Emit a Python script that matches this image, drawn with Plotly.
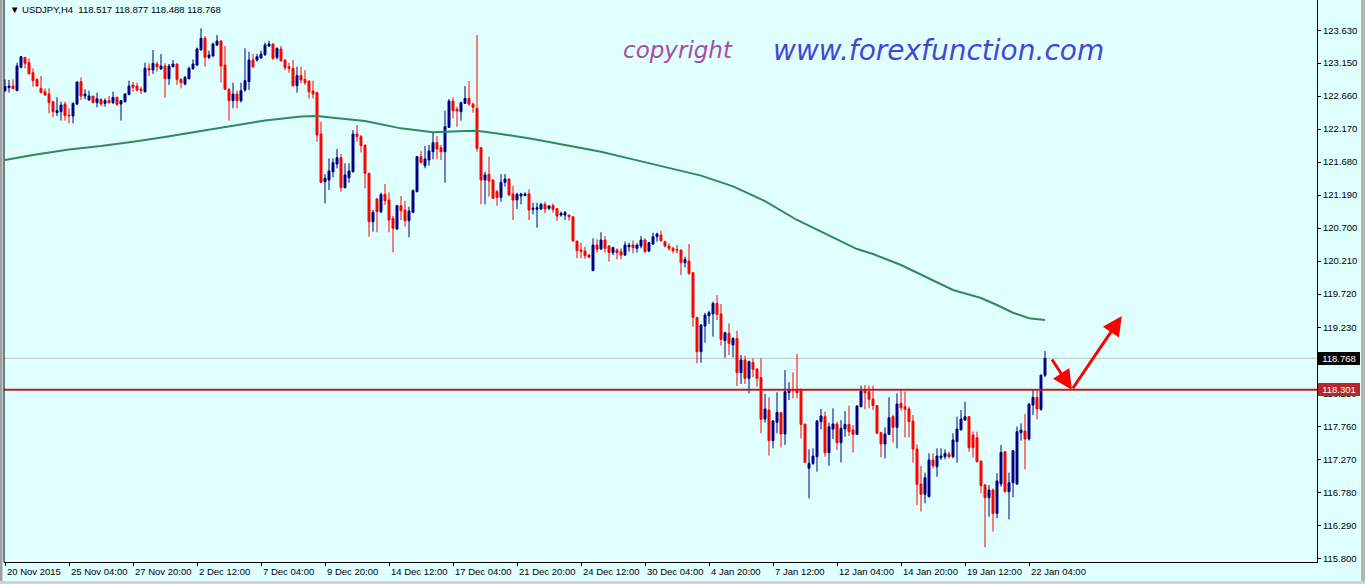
import plotly.graph_objects as go

# ---------------- data ----------------
symbol = "USDJPY,H4"

opens = [
    122.740, 122.785, 122.809, 122.740, 123.087, 123.235, 123.156, 123.007, 122.908, 122.775,
    122.725, 122.691, 122.577, 122.414, 122.428, 122.542, 122.379, 122.364, 122.542, 122.874,
    122.661, 122.602, 122.661, 122.562, 122.612, 122.552, 122.592, 122.562, 122.641, 122.542,
    122.577, 122.681, 122.824, 122.809, 122.765, 122.725, 123.072, 123.047, 123.136, 123.062,
    123.106, 122.918, 123.096, 123.136, 122.908, 122.839, 122.918, 123.067, 123.121, 123.344,
    123.517, 123.235, 123.255, 123.418, 123.477, 123.121, 122.760, 122.592, 122.691, 122.592,
    122.750, 122.874, 123.195, 123.195, 123.225, 123.275, 123.403, 123.433, 123.235, 123.359,
    123.195, 123.096, 123.072, 122.814, 122.963, 122.908, 122.884, 122.735, 122.711, 122.097,
    121.390, 121.414, 121.538, 121.652, 121.746, 121.301, 121.449, 121.538, 122.097, 122.058,
    121.934, 121.513, 120.796, 121.133, 120.945, 121.202, 121.118, 120.846, 120.687, 121.034,
    120.969, 120.811, 120.935, 121.241, 121.761, 121.627, 121.711, 121.835, 121.969, 121.894,
    121.835, 122.196, 122.587, 122.463, 122.428, 122.552, 122.626, 122.542, 122.478, 121.894,
    121.414, 121.498, 121.414, 121.241, 121.157, 121.380, 121.429, 121.207, 121.118, 121.177,
    121.182, 121.207, 120.979, 120.979, 120.984, 121.053, 120.994, 121.034, 120.989, 120.895,
    120.895, 120.895, 120.870, 120.509, 120.376, 120.361, 120.301, 120.069, 120.450, 120.390,
    120.524, 120.435, 120.336, 120.376, 120.351, 120.301, 120.425, 120.450, 120.400, 120.435,
    120.524, 120.361, 120.465, 120.573, 120.598, 120.499, 120.435, 120.400, 120.385, 120.375,
    120.187, 120.212, 120.039, 119.376, 118.866, 119.247, 119.401, 119.426, 119.584, 119.426,
    119.030, 119.138, 118.965, 119.064, 118.555, 118.743, 118.471, 118.708, 118.609, 118.481,
    117.867, 118.001, 117.546, 117.818, 117.961, 117.645, 118.258, 118.307, 118.298, 118.298,
    117.793, 117.135, 117.209, 117.308, 117.828, 117.902, 117.367, 117.719, 117.793, 117.516,
    117.719, 117.788, 117.704, 117.640, 118.050, 118.298, 118.273, 118.164, 118.065, 117.664,
    117.496, 117.640, 117.902, 117.744, 118.100, 118.050, 118.016, 117.838, 117.422, 116.903,
    116.749, 116.715, 117.259, 117.160, 117.293, 117.308, 117.348, 117.308, 117.531, 117.704,
    117.852, 117.902, 117.630, 117.590, 117.244, 116.888, 116.700, 116.814, 116.467, 116.903,
    117.382, 116.789, 116.922, 116.903, 117.664, 117.689, 117.570, 118.075, 118.189, 118.011,
    118.517,
]

highs = [
    122.908, 122.899, 122.908, 123.156, 123.255, 123.235, 123.220, 123.072, 122.923, 122.958,
    122.775, 122.775, 122.577, 122.641, 122.577, 122.577, 122.478, 122.562, 122.874, 122.938,
    122.760, 122.740, 122.661, 122.711, 122.626, 122.626, 122.661, 122.725, 122.651, 122.602,
    122.701, 122.889, 122.869, 122.859, 122.800, 123.156, 123.146, 123.344, 123.171, 123.284,
    123.146, 123.136, 123.195, 123.146, 122.923, 122.958, 123.096, 123.205, 123.383, 123.665,
    123.552, 123.334, 123.453, 123.566, 123.492, 123.403, 122.775, 122.859, 122.740, 122.859,
    123.368, 123.319, 123.284, 123.284, 123.334, 123.453, 123.482, 123.443, 123.383, 123.403,
    123.205, 123.156, 123.195, 123.096, 123.096, 123.047, 122.889, 122.889, 122.725, 122.280,
    121.503, 121.736, 121.736, 121.875, 121.800, 121.662, 121.662, 122.157, 122.231, 122.082,
    121.934, 121.523, 120.969, 121.142, 121.226, 121.355, 121.231, 120.880, 121.043, 121.177,
    121.103, 121.019, 121.276, 121.771, 121.845, 121.919, 121.934, 122.117, 122.067, 121.934,
    122.443, 122.617, 122.641, 122.503, 122.577, 122.809, 122.884, 122.562, 123.566, 121.899,
    121.538, 121.761, 121.424, 121.266, 121.503, 121.503, 121.439, 121.330, 121.226, 121.226,
    121.231, 121.276, 121.078, 121.078, 121.078, 121.093, 121.043, 121.068, 120.994, 120.945,
    120.954, 120.895, 120.870, 120.509, 120.484, 120.425, 120.310, 120.549, 120.534, 120.638,
    120.583, 120.450, 120.425, 120.400, 120.400, 120.499, 120.484, 120.514, 120.474, 120.583,
    120.549, 120.499, 120.633, 120.633, 120.662, 120.514, 120.474, 120.425, 120.450, 120.385,
    120.276, 120.464, 120.039, 119.376, 119.277, 119.445, 119.475, 119.609, 119.707, 119.574,
    119.163, 119.287, 119.079, 119.178, 118.817, 118.807, 118.733, 118.767, 118.619, 118.767,
    118.238, 118.189, 117.852, 118.263, 117.976, 118.594, 118.411, 118.560, 118.832, 118.322,
    117.793, 117.417, 117.432, 117.852, 118.016, 117.976, 117.813, 118.026, 117.828, 117.852,
    117.986, 118.065, 117.778, 118.075, 118.362, 118.372, 118.362, 118.362, 118.075, 117.679,
    117.744, 118.189, 117.927, 118.248, 118.298, 118.273, 118.050, 117.927, 117.491, 117.170,
    117.071, 117.358, 117.358, 117.432, 117.432, 117.417, 117.382, 117.655, 117.902, 118.001,
    118.125, 117.912, 117.679, 117.679, 117.249, 116.903, 116.888, 116.838, 117.061, 117.481,
    117.392, 117.071, 117.407, 117.754, 117.803, 117.942, 118.100, 118.308, 118.308, 118.520,
    118.877,
]

lows = [
    122.725, 122.711, 122.760, 122.740, 123.072, 123.072, 122.988, 122.800, 122.800, 122.701,
    122.661, 122.404, 122.344, 122.364, 122.295, 122.295, 122.255, 122.255, 122.527, 122.602,
    122.612, 122.592, 122.552, 122.493, 122.513, 122.503, 122.552, 122.542, 122.513, 122.295,
    122.562, 122.681, 122.725, 122.725, 122.691, 122.711, 122.958, 122.988, 123.022, 123.047,
    122.636, 122.824, 123.087, 122.824, 122.775, 122.819, 122.908, 123.047, 123.106, 123.334,
    123.096, 123.205, 123.245, 123.403, 122.859, 122.750, 122.295, 122.478, 122.478, 122.562,
    122.725, 122.750, 123.072, 123.171, 123.215, 123.255, 123.393, 123.195, 123.205, 123.171,
    123.047, 123.007, 122.800, 122.711, 122.849, 122.824, 122.626, 122.626, 121.983, 121.365,
    121.068, 121.266, 121.454, 121.588, 121.241, 121.291, 121.375, 121.523, 121.983, 121.825,
    121.291, 120.573, 120.648, 120.638, 120.920, 121.043, 120.638, 120.341, 120.672, 120.821,
    120.722, 120.564, 120.920, 121.231, 121.662, 121.588, 121.627, 121.721, 121.721, 121.711,
    121.375, 122.191, 122.330, 122.206, 122.295, 122.542, 122.513, 122.414, 121.835, 121.053,
    121.053, 121.167, 121.142, 121.034, 121.093, 121.316, 121.177, 120.821, 120.984, 121.053,
    121.177, 120.821, 120.905, 120.707, 120.969, 120.920, 120.969, 120.930, 120.806, 120.870,
    120.821, 120.811, 120.499, 120.252, 120.252, 120.242, 120.260, 120.069, 120.336, 120.376,
    120.336, 120.202, 120.301, 120.237, 120.237, 120.287, 120.351, 120.326, 120.336, 120.400,
    120.336, 120.341, 120.450, 120.499, 120.499, 120.415, 120.365, 120.326, 120.326, 120.004,
    120.118, 120.004, 119.237, 118.693, 118.703, 119.000, 119.277, 119.089, 119.336, 118.956,
    118.777, 118.817, 118.782, 118.357, 118.387, 118.387, 118.248, 118.486, 118.347, 117.655,
    117.813, 117.323, 117.432, 117.655, 117.442, 117.481, 118.149, 118.174, 118.174, 117.580,
    117.224, 116.690, 117.184, 117.086, 117.714, 117.308, 117.174, 117.570, 117.407, 117.224,
    117.605, 117.615, 117.372, 117.630, 118.040, 118.011, 118.026, 118.001, 117.655, 117.298,
    117.283, 117.630, 117.516, 117.432, 117.991, 117.595, 117.595, 117.219, 116.591, 116.492,
    116.616, 116.705, 117.135, 117.011, 117.259, 117.269, 117.283, 117.283, 117.219, 117.704,
    117.842, 117.382, 117.293, 117.224, 116.764, 115.963, 116.418, 116.195, 116.393, 116.863,
    116.774, 116.378, 116.705, 116.888, 117.546, 117.120, 117.546, 117.927, 117.862, 117.991,
    118.488,
]

closes = [
    122.800, 122.809, 122.770, 123.106, 123.245, 123.146, 122.988, 122.889, 122.809, 122.711,
    122.676, 122.562, 122.428, 122.443, 122.527, 122.369, 122.369, 122.552, 122.869, 122.661,
    122.691, 122.661, 122.562, 122.621, 122.542, 122.592, 122.562, 122.641, 122.537, 122.592,
    122.691, 122.809, 122.790, 122.750, 122.740, 123.072, 123.047, 123.146, 123.096, 123.106,
    122.918, 123.106, 123.136, 122.908, 122.859, 122.938, 123.072, 123.136, 123.359, 123.517,
    123.235, 123.270, 123.433, 123.477, 123.106, 122.760, 122.592, 122.691, 122.592, 122.740,
    122.889, 123.195, 123.096, 123.245, 123.284, 123.418, 123.433, 123.220, 123.368, 123.185,
    123.082, 123.072, 122.814, 122.963, 122.899, 122.859, 122.725, 122.691, 122.082, 121.380,
    121.439, 121.548, 121.672, 121.746, 121.301, 121.489, 121.548, 122.097, 122.058, 121.924,
    121.513, 120.796, 120.935, 120.945, 121.202, 121.108, 120.821, 120.697, 121.034, 120.959,
    120.811, 120.954, 121.256, 121.761, 121.672, 121.726, 121.845, 121.969, 121.875, 121.835,
    122.206, 122.587, 122.443, 122.438, 122.562, 122.626, 122.542, 122.493, 121.884, 121.414,
    121.489, 121.399, 121.142, 121.157, 121.380, 121.429, 121.192, 121.118, 121.202, 121.207,
    121.207, 120.969, 120.994, 121.004, 121.053, 120.984, 121.029, 120.979, 120.880, 120.920,
    120.930, 120.870, 120.509, 120.366, 120.356, 120.291, 120.267, 120.450, 120.385, 120.524,
    120.400, 120.336, 120.410, 120.336, 120.301, 120.450, 120.450, 120.410, 120.450, 120.524,
    120.351, 120.484, 120.573, 120.613, 120.514, 120.435, 120.400, 120.365, 120.375, 120.187,
    120.237, 120.029, 119.376, 118.866, 119.262, 119.411, 119.445, 119.584, 119.421, 119.049,
    119.148, 118.990, 119.064, 118.555, 118.743, 118.471, 118.718, 118.604, 118.471, 117.862,
    118.016, 117.546, 117.838, 117.966, 117.645, 118.273, 118.307, 118.288, 118.258, 117.788,
    117.224, 117.209, 117.318, 117.838, 117.912, 117.367, 117.753, 117.793, 117.516, 117.729,
    117.788, 117.679, 117.640, 118.060, 118.288, 118.258, 118.159, 118.065, 117.655, 117.496,
    117.645, 117.887, 117.744, 118.090, 118.035, 118.011, 117.828, 117.422, 116.898, 116.749,
    116.997, 117.259, 117.175, 117.318, 117.318, 117.358, 117.308, 117.556, 117.719, 117.867,
    117.902, 117.442, 117.442, 117.234, 116.878, 116.700, 116.814, 116.467, 116.947, 117.372,
    116.789, 116.922, 117.397, 117.679, 117.704, 117.570, 118.090, 118.189, 118.016, 118.520,
    118.768,
]

bars = list(range(len(closes)))

# moving average (read at sampled bars)
ma_bars = [0, 7, 16, 24, 32, 40, 49, 57, 65, 74, 78, 82, 90, 99, 107, 115, 118, 124, 132,
           140, 149, 157, 164, 174, 182, 190, 198, 205, 209, 213, 217, 224, 237, 244, 248,
           252, 256, 260]
ma_vals = [121.711, 121.785, 121.867, 121.919, 121.983, 122.052, 122.141, 122.220, 122.297,
           122.357, 122.364, 122.339, 122.290, 122.181, 122.122, 122.141, 122.146, 122.097,
           122.023, 121.934, 121.834, 121.721, 121.626, 121.480, 121.320, 121.100, 120.821,
           120.620, 120.499, 120.390, 120.316, 120.153, 119.782, 119.663, 119.559, 119.445,
           119.362, 119.336]

support_level = 118.301

tick_bars = [0, 16, 32, 48, 64, 80, 96, 112, 128, 144, 160, 176, 192, 208, 224, 240, 256]
tick_labels = ["20 Nov 2015", "25 Nov 04:00", "27 Nov 20:00", "2 Dec 12:00", "7 Dec 04:00",
               "9 Dec 20:00", "14 Dec 12:00", "17 Dec 04:00", "21 Dec 20:00", "24 Dec 12:00",
               "30 Dec 04:00", "4 Jan 20:00", "7 Jan 12:00", "12 Jan 04:00", "14 Jan 20:00",
               "19 Jan 12:00", "22 Jan 04:00"]

price_ticks = [123.630, 123.150, 122.660, 122.170, 121.680, 121.190, 120.700, 120.210,
               119.720, 119.230, 118.740, 118.250, 117.760, 117.270, 116.780, 116.290, 115.800]

# ---------------- figure ----------------
BG = "#E0FFFF"
FONT = "Liberation Sans"
W, H = 1365, 584
ML, MR, MT, MB = 4, 48, 0, 22
PW = W - ML - MR
PH = H - MT - MB

fig = go.Figure()

fig.add_trace(go.Candlestick(
    x=bars, open=opens, high=highs, low=lows, close=closes,
    increasing=dict(line=dict(color="#000080", width=1), fillcolor="#000080"),
    decreasing=dict(line=dict(color="#FF0000", width=1), fillcolor="#FF0000"),
    whiskerwidth=0, showlegend=False, hoverinfo="skip",
))

fig.add_trace(go.Scatter(
    x=ma_bars, y=ma_vals, mode="lines",
    line=dict(color="#2E8B57", width=2),
    showlegend=False, hoverinfo="skip",
))

shapes = [
    # bid line
    dict(type="line", xref="paper", yref="y", x0=0, x1=1, y0=closes[-1], y1=closes[-1],
         line=dict(color="#C0C0C0", width=1), layer="below"),
    # support line
    dict(type="line", xref="paper", yref="y", x0=0, x1=1, y0=support_level, y1=support_level,
         line=dict(color="#B82020", width=2)),
    # left frame line
    dict(type="line", xref="paper", yref="paper", x0=0, x1=0, y0=0, y1=1,
         line=dict(color="#000000", width=1)),
    # window edges
    dict(type="rect", xref="paper", yref="paper", x0=-ML / PW, x1=-1.5 / PW, y0=-MB / PH, y1=1,
         line=dict(width=0), fillcolor="#A0A0A0"),
    dict(type="rect", xref="paper", yref="paper", x0=(W - 4 - ML) / PW, x1=(W - ML) / PW,
         y0=-MB / PH, y1=1, line=dict(width=0), fillcolor="#B4B4B4"),
    dict(type="rect", xref="paper", yref="paper", x0=-ML / PW, x1=(W - ML) / PW,
         y0=-MB / PH, y1=-(MB - 3) / PH, line=dict(width=0), fillcolor="#D4D4D4"),
]

annotations = []
for b, t in zip(tick_bars, tick_labels):
    annotations.append(dict(x=b, xref="x", y=0, yref="paper", yshift=-9, text=t,
                            xanchor="left", yanchor="middle", showarrow=False,
                            font=dict(family=FONT, size=9.5, color="#000000")))

header = f"▼ {symbol}  {opens[-1]:.3f} {highs[-1]:.3f} {lows[-1]:.3f} {closes[-1]:.3f}"
annotations.append(dict(x=4 / PW, xref="paper", y=1, yref="paper", yshift=-2, text=header,
                        xanchor="left", yanchor="top", showarrow=False,
                        font=dict(family=FONT, size=9.5, color="#000000")))

annotations.append(dict(x=(678 - ML) / PW, xref="paper", y=1 - 50 / PH, yref="paper",
                        text="<i>copyright</i>", showarrow=False,
                        xanchor="center", yanchor="middle",
                        font=dict(family="DejaVu Sans", size=23, color="#A64CA6")))
annotations.append(dict(x=(938 - ML) / PW, xref="paper", y=1 - 50 / PH, yref="paper",
                        text="<i>www.forexfunction.com</i>", showarrow=False,
                        xanchor="center", yanchor="middle",
                        font=dict(family="DejaVu Sans", size=28, color="#4646D2")))

for val, bg in [(closes[-1], "#000000"), (support_level, "#B82828")]:
    annotations.append(dict(x=1, xref="paper", xshift=1, y=val, yref="y", text=f"{val:.3f}",
                            xanchor="left", yanchor="middle", showarrow=False,
                            bgcolor=bg, width=42, height=13, borderpad=0, borderwidth=0,
                            font=dict(family=FONT, size=9.5, color="#FFFFFF")))

# forecast arrows
annotations.append(dict(x=266.7, y=support_level, xref="x", yref="y",
                        ax=261.5, ay=118.773, axref="x", ayref="y", text="",
                        showarrow=True, arrowhead=2, arrowsize=1.3, arrowwidth=3,
                        arrowcolor="#FF0000", standoff=0, startstandoff=0))
annotations.append(dict(x=279.2, y=119.396, xref="x", yref="y",
                        ax=266.7, ay=support_level, axref="x", ayref="y", text="",
                        showarrow=True, arrowhead=2, arrowsize=1.3, arrowwidth=3,
                        arrowcolor="#FF0000", standoff=0, startstandoff=0))

fig.update_layout(
    width=W, height=H,
    margin=dict(l=ML, r=MR, t=MT, b=MB),
    paper_bgcolor=BG, plot_bgcolor=BG,
    font=dict(family=FONT, size=9.5, color="#000000"),
    shapes=shapes, annotations=annotations,
    xaxis=dict(range=[-0.25, 328], showgrid=False, zeroline=False,
               showline=True, linecolor="#000000", linewidth=1,
               ticks="outside", ticklen=3, tickcolor="#000000",
               tickvals=tick_bars, showticklabels=False,
               rangeslider=dict(visible=False), fixedrange=True),
    yaxis=dict(side="right", range=[115.745, 124.086], showgrid=False, zeroline=False,
               showline=True, linecolor="#000000", linewidth=1,
               ticks="outside", ticklen=3, tickcolor="#000000",
               tickvals=price_ticks, ticktext=[f"{v:.3f}" for v in price_ticks],
               tickfont=dict(family=FONT, size=9.5, color="#000000"), fixedrange=True,
               automargin=False),
    showlegend=False,
)

fig.write_html(
    "out.html",
    config={"displayModeBar": False, "staticPlot": True},
    post_script="document.body.style.margin='0';document.body.style.background='#E0FFFF';",
)
